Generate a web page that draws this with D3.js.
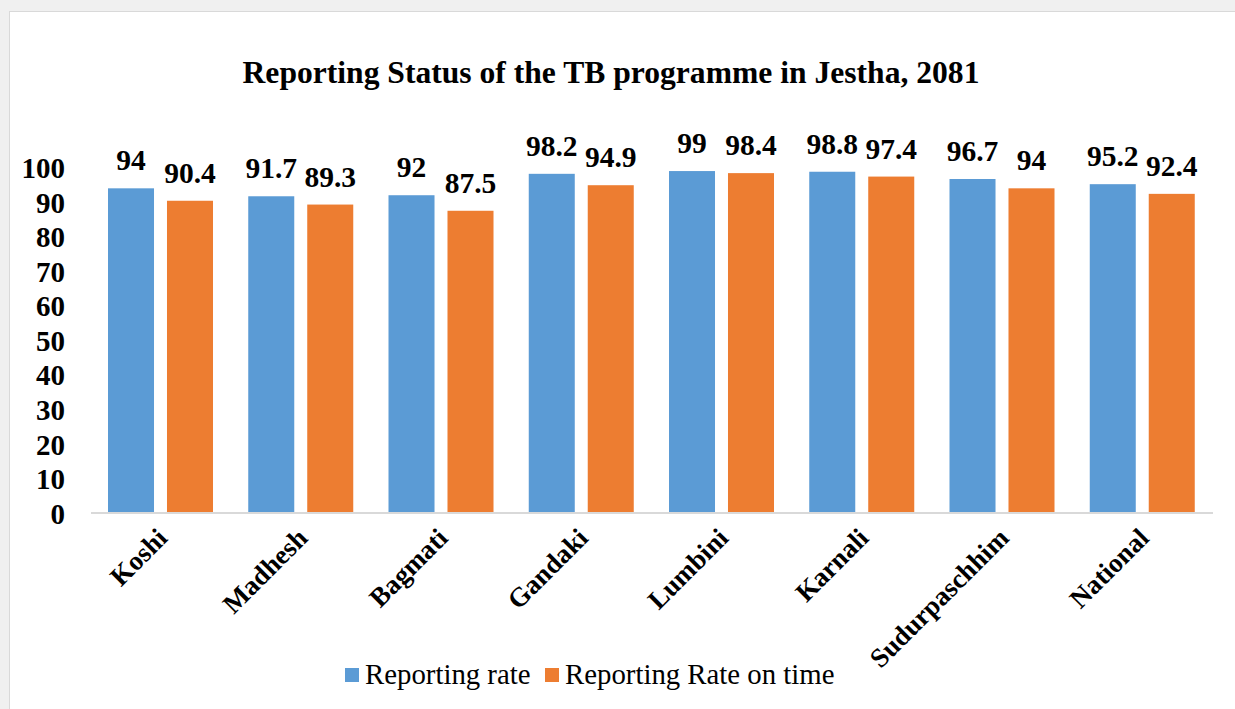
<!DOCTYPE html>
<html>
<head>
<meta charset="utf-8">
<script src="https://cdn.jsdelivr.net/npm/d3@7"></script>
<style>
  html, body { margin: 0; padding: 0; background: #f0f0f0; }
  svg { display: block; }
</style>
</head>
<body>
<svg id="chart" width="1235" height="709"></svg>
<script>
const categories = ["Koshi", "Madhesh", "Bagmati", "Gandaki", "Lumbini", "Karnali", "Sudurpaschhim", "National"];
const seriesNames = ["Reporting rate", "Reporting Rate on time"];
const reportingRate = [94, 91.7, 92, 98.2, 99, 98.8, 96.7, 95.2];
const reportingOnTime = [90.4, 89.3, 87.5, 94.9, 98.4, 97.4, 94, 92.4];
const yTicks = [0, 10, 20, 30, 40, 50, 60, 70, 80, 90, 100];
const colors = ["#5B9BD5", "#ED7D31"];
const title = "Reporting Status of the TB programme in Jestha, 2081";

const svg = d3.select("#chart");
const font = "'Liberation Serif', 'Times New Roman', serif";

// panel
svg.append("rect").attr("x", 9.5).attr("y", 11.5).attr("width", 1240).attr("height", 710)
  .attr("fill", "#ffffff").attr("stroke", "#d9d9d9").attr("stroke-width", 1);

const x = d3.scaleBand().domain(categories).range([91, 1213]).padding(0);
const sub = d3.scaleBand().domain(seriesNames)
  .range([x.bandwidth() * 0.1212, x.bandwidth() * 0.8699]).paddingInner(0.22);
const y = d3.scaleLinear().domain([0, 100]).range([513, 167.6]);

const values = [reportingRate, reportingOnTime];

// title
svg.append("text").attr("x", 611).attr("y", 83).attr("text-anchor", "middle")
  .attr("font-family", font).attr("font-weight", "bold").attr("font-size", 31.6)
  .attr("fill", "#000").text(title);

// bars
seriesNames.forEach((s, si) => {
  const g = svg.append("g");
  g.selectAll("rect").data(categories).join("rect")
    .attr("x", c => x(c) + sub(s))
    .attr("y", (c, i) => y(values[si][i]))
    .attr("width", sub.bandwidth())
    .attr("height", (c, i) => y(0) - y(values[si][i]))
    .attr("fill", colors[si]);
  g.selectAll("text").data(categories).join("text")
    .attr("x", c => x(c) + sub(s) + sub.bandwidth() / 2)
    .attr("y", (c, i) => y(values[si][i]) - 18)
    .attr("text-anchor", "middle")
    .attr("font-family", font).attr("font-weight", "bold").attr("font-size", 29.5)
    .attr("fill", "#000")
    .text((c, i) => values[si][i]);
});

// axis line
svg.append("line").attr("x1", 91).attr("x2", 1213).attr("y1", 513).attr("y2", 513)
  .attr("stroke", "#d9d9d9").attr("stroke-width", 2);

// y tick labels
const yAxis = d3.axisLeft(y).tickValues(yTicks).tickSize(0).tickPadding(0);
const ya = svg.append("g").attr("transform", "translate(65,0)").call(yAxis);
ya.select(".domain").remove();
ya.selectAll("text").attr("font-family", font).attr("font-weight", "bold")
  .attr("font-size", 29).attr("fill", "#000").attr("dy", "0.35em");

// x labels
const xAxis = d3.axisBottom(x).tickSize(0).tickPadding(0);
const xa = svg.append("g").call(xAxis);
xa.select(".domain").remove();
xa.selectAll(".tick").attr("transform", d => `translate(${x(d) + x.bandwidth() / 2 + 1},533)`);
xa.selectAll("text")
  .attr("y", 0).attr("x", 0).attr("dy", "0.35em")
  .attr("transform", "rotate(-45)")
  .attr("text-anchor", "end")
  .attr("font-family", font).attr("font-weight", "bold").attr("font-size", 27)
  .attr("fill", "#000");

// legend
const legendX = [345, 545];
seriesNames.forEach((s, i) => {
  svg.append("rect").attr("x", legendX[i]).attr("y", 668).attr("width", 14).attr("height", 14)
    .attr("fill", colors[i]);
  svg.append("text").attr("x", legendX[i] + 20).attr("y", 684)
    .attr("font-family", font).attr("font-size", 28.8).attr("fill", "#000").text(s);
});
</script>
</body>
</html>
